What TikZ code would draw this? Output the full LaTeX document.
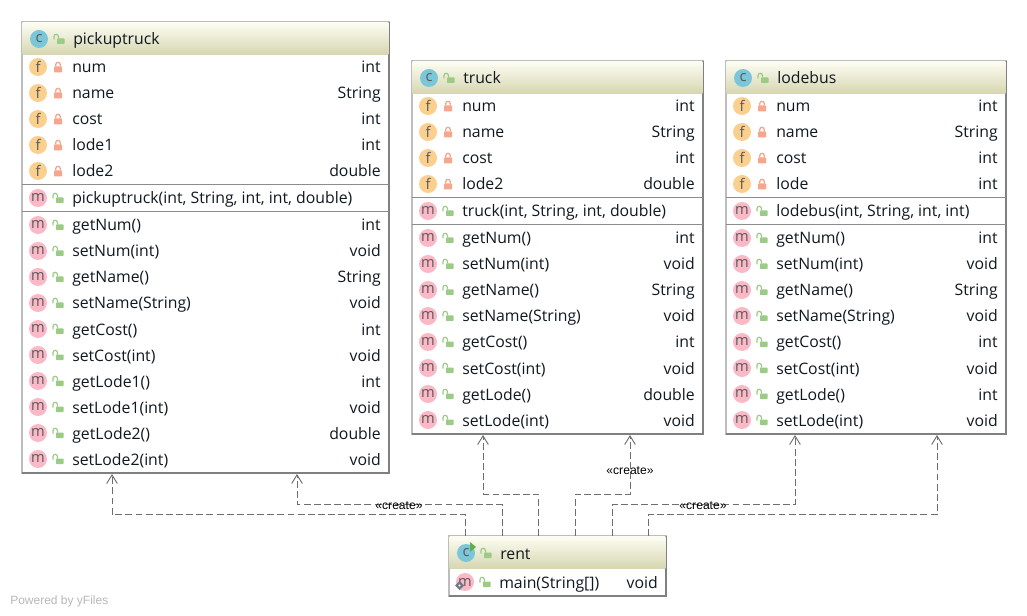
\documentclass[tikz,border=0pt]{standalone}
\usepackage{fontspec}
\setmainfont{Open Sans}
\newfontfamily\labelfont{Liberation Sans}
\usetikzlibrary{arrows.meta,calc}
\definecolor{edgegrey}{HTML}{6E6E6E}
\definecolor{sepgrey}{HTML}{8C8C8C}
\definecolor{lightborder}{HTML}{BDBDBD}
\definecolor{darkborder}{HTML}{808080}
\definecolor{headtop}{HTML}{FDFDF3}
\definecolor{headbot}{HTML}{D6D6B2}
\definecolor{icf}{HTML}{FBCF8E}
\definecolor{icm}{HTML}{FBB8C6}
\definecolor{icc}{HTML}{7CC6DA}
\definecolor{lockred}{HTML}{F5A68C}
\definecolor{lockgreen}{HTML}{9CCB85}
\definecolor{geargrey}{HTML}{6F7A85}
\definecolor{playgreen}{HTML}{5DB04A}
\definecolor{txt}{HTML}{101820}
\tikzset{
  x=0.75pt,y=-0.75pt,
  classbox/.style={anchor=north west,draw=lightborder,line width=0.9pt,fill=white,inner sep=0pt,outer sep=0pt},
  headbox/.style={anchor=north west,top color=headtop,bottom color=headbot,inner sep=0pt,outer sep=0pt},
  rowtext/.style={font=\fontsize{11.85}{13}\selectfont,text=txt,inner sep=0pt,anchor=base west},
  typetext/.style={font=\fontsize{11.85}{13}\selectfont,text=txt,inner sep=0pt,anchor=base east},
  icon/.style={circle,minimum size=13.5pt,inner sep=0pt,font=\fontsize{11}{12}\selectfont,text=black!65},
  dep/.style={draw=edgegrey,line width=0.75pt,dash pattern=on 5.2pt off 2.4pt,-{Straight Barb[length=6.5pt,width=8pt,line width=0.7pt]}},
  stereo/.style={font=\labelfont\fontsize{9.1}{10}\selectfont,text=black,inner sep=0pt},
}
% closed / open padlock
\newcommand{\lockc}[2]{%
  \fill[lockred,rounded corners=0.4pt] (#1-4,#2-0.5) rectangle (#1+4,#2+5.5);
  \draw[lockred,line width=1pt] (#1-2.2,#2-0.5) -- (#1-2.2,#2-2.5) arc[start angle=180,end angle=0,radius=2.2*0.75pt] -- (#1+2.2,#2-0.5);
}
\newcommand{\locko}[2]{%
  \fill[lockgreen,rounded corners=0.4pt] (#1-2,#2-0.5) rectangle (#1+5.5,#2+5);
  \draw[lockgreen,line width=0.9pt] (#1-5,#2+0.5) -- (#1-5,#2-2.5) arc[start angle=180,end angle=0,radius=2.2*0.75pt] -- (#1-0.6,#2-0.5);
}
% class box: id, x, y, w, h, title
\newcommand{\umlclass}[6]{%
  \def\bx{#2}\def\by{#3}\def\bw{#4}%
  \node[classbox,minimum width=#4*0.75pt,minimum height=#5*0.75pt] (#1) at (#2,#3) {};
  \draw[darkborder,line width=1pt] (#1.north east) -- (#1.south east) -- (#1.south west);
  \node[headbox,minimum width=#4*0.75pt-0.8pt,minimum height=32*0.75pt] (#1-head) at (#2+0.5,#3+0.5) {};
  \node[icon,fill=icc] (#1-icon) at (#2+17,#3+17) {c};
  \locko{#2+37}{#3+17}
  \node[rowtext] (#1-title) at (#2+51,#3+23) {#6};
}
% row: id, y, icon letter, lock macro, name, type
\newcommand{\umlrow}[6]{%
  \node[icon,fill=ic#3] (#1-#2-icon) at (\bx+16,#2) {#3};
  #4{\bx+36}{#2}
  \node[rowtext] (#1-#2-name) at (\bx+50,#2+6) {#5};
  \node[typetext] (#1-#2-type) at (\bx+\bw-8,#2+6) {#6};
}
\newcommand{\umlsep}[2]{\draw[sepgrey,line width=0.9pt] (\bx,#2) -- (\bx+\bw,#2);}
\begin{document}
\begin{tikzpicture}
\useasboundingbox (0,0) rectangle (1027,616);
\fill[white] (0,0) rectangle (1027,616);

% pickuptruck
\umlclass{pickuptruck}{22}{22}{367}{451}{pickuptruck}
\umlrow{pickuptruck}{67}{f}{\lockc}{num}{int}
\umlrow{pickuptruck}{93}{f}{\lockc}{name}{String}
\umlrow{pickuptruck}{119}{f}{\lockc}{cost}{int}
\umlrow{pickuptruck}{145}{f}{\lockc}{lode1}{int}
\umlrow{pickuptruck}{171}{f}{\lockc}{lode2}{double}
\umlsep{pickuptruck}{184.5}
\umlrow{pickuptruck}{198}{m}{\locko}{pickuptruck(int, String, int, int, double)}{}
\umlsep{pickuptruck}{211.5}
\umlrow{pickuptruck}{225}{m}{\locko}{getNum()}{int}
\umlrow{pickuptruck}{251}{m}{\locko}{setNum(int)}{void}
\umlrow{pickuptruck}{277}{m}{\locko}{getName()}{String}
\umlrow{pickuptruck}{303}{m}{\locko}{setName(String)}{void}
\umlrow{pickuptruck}{329}{m}{\locko}{getCost()}{int}
\umlrow{pickuptruck}{355}{m}{\locko}{setCost(int)}{void}
\umlrow{pickuptruck}{381}{m}{\locko}{getLode1()}{int}
\umlrow{pickuptruck}{407}{m}{\locko}{setLode1(int)}{void}
\umlrow{pickuptruck}{433}{m}{\locko}{getLode2()}{double}
\umlrow{pickuptruck}{459}{m}{\locko}{setLode2(int)}{void}

% truck
\umlclass{truck}{412}{61}{291}{373}{truck}
\umlrow{truck}{106}{f}{\lockc}{num}{int}
\umlrow{truck}{132}{f}{\lockc}{name}{String}
\umlrow{truck}{158}{f}{\lockc}{cost}{int}
\umlrow{truck}{184}{f}{\lockc}{lode2}{double}
\umlsep{truck}{197.5}
\umlrow{truck}{211}{m}{\locko}{truck(int, String, int, double)}{}
\umlsep{truck}{224.5}
\umlrow{truck}{238}{m}{\locko}{getNum()}{int}
\umlrow{truck}{264}{m}{\locko}{setNum(int)}{void}
\umlrow{truck}{290}{m}{\locko}{getName()}{String}
\umlrow{truck}{316}{m}{\locko}{setName(String)}{void}
\umlrow{truck}{342}{m}{\locko}{getCost()}{int}
\umlrow{truck}{368}{m}{\locko}{setCost(int)}{void}
\umlrow{truck}{394}{m}{\locko}{getLode()}{double}
\umlrow{truck}{420}{m}{\locko}{setLode(int)}{void}

% lodebus
\umlclass{lodebus}{726}{61}{280}{373}{lodebus}
\umlrow{lodebus}{106}{f}{\lockc}{num}{int}
\umlrow{lodebus}{132}{f}{\lockc}{name}{String}
\umlrow{lodebus}{158}{f}{\lockc}{cost}{int}
\umlrow{lodebus}{184}{f}{\lockc}{lode}{int}
\umlsep{lodebus}{197.5}
\umlrow{lodebus}{211}{m}{\locko}{lodebus(int, String, int, int)}{}
\umlsep{lodebus}{224.5}
\umlrow{lodebus}{238}{m}{\locko}{getNum()}{int}
\umlrow{lodebus}{264}{m}{\locko}{setNum(int)}{void}
\umlrow{lodebus}{290}{m}{\locko}{getName()}{String}
\umlrow{lodebus}{316}{m}{\locko}{setName(String)}{void}
\umlrow{lodebus}{342}{m}{\locko}{getCost()}{int}
\umlrow{lodebus}{368}{m}{\locko}{setCost(int)}{void}
\umlrow{lodebus}{394}{m}{\locko}{getLode()}{int}
\umlrow{lodebus}{420}{m}{\locko}{setLode(int)}{void}

% rent
\umlclass{rent}{449}{536}{217}{60}{rent}
\fill[playgreen] (470,542) -- (476,547) -- (470,552) -- cycle;
\umlrow{rent}{582}{m}{\locko}{main(String[])}{void}
\fill[geargrey] (459.5,581) -- (464,585.5) -- (459.5,590) -- (455,585.5) -- cycle;
\fill[white] (459.5,585.5) circle[radius=1.1*0.75pt];

% connectors
\draw[dep] ($(rent.north west)+(16.5,0)$) -- ++(0,-21.5) -| ($(pickuptruck.south west)+(90,1)$);
\draw[dep] ($(rent.north west)+(53,0)$) -- ++(0,-31.5) -| ($(pickuptruck.south west)+(275,1)$);
\draw[dep] ($(rent.north west)+(89.5,0)$) -- ++(0,-42) -| ($(truck.south west)+(71,1)$);
\draw[dep] ($(rent.north west)+(126.5,0)$) -- ++(0,-42) -| ($(truck.south west)+(218,1)$);
\draw[dep] ($(rent.north west)+(163,0)$) -- ++(0,-31.5) -| ($(lodebus.south west)+(69,1)$);
\draw[dep] ($(rent.north west)+(199,0)$) -- ++(0,-21.5) -| ($(lodebus.south west)+(211,1)$);

\node[stereo] (create-a) at (399,506) {«create»};
\node[stereo] (create-b) at (630,471) {«create»};
\node[stereo] (create-c) at (703,506) {«create»};

\node[font=\labelfont\fontsize{9}{10}\selectfont,text=black!28,anchor=base west,inner sep=0pt] (powered) at (10,604) {Powered by yFiles};
\end{tikzpicture}
\end{document}
